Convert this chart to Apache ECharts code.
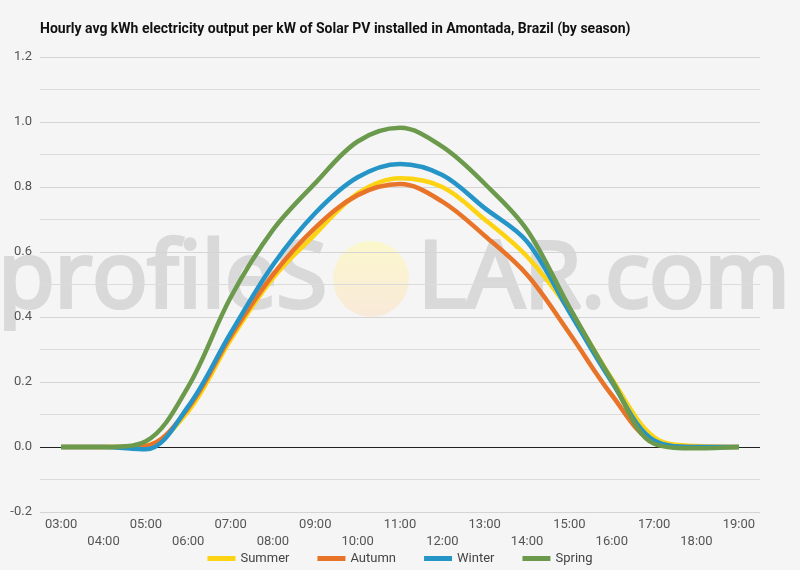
<!DOCTYPE html>
<html>
<head>
<meta charset="utf-8">
<script src="https://cdn.jsdelivr.net/npm/echarts@6/dist/echarts.min.js"></script>
<style>
  html, body { margin: 0; padding: 0; background: #f5f5f5; }
  #chart { width: 800px; height: 570px; }
</style>
</head>
<body>
<div id="chart"></div>
<script>
const hours = ['03:00', '04:00', '05:00', '06:00', '07:00', '08:00', '09:00', '10:00', '11:00',
  '12:00', '13:00', '14:00', '15:00', '16:00', '17:00', '18:00', '19:00']

const summer = [0, 0, 0.004, 0.11, 0.33, 0.52, 0.655, 0.78, 0.827, 0.80, 0.70, 0.586, 0.42, 0.21, 0.03, 0.003, 0]
const autumn = [0, 0, 0.004, 0.12, 0.34, 0.53, 0.675, 0.775, 0.809, 0.755, 0.65, 0.53, 0.35, 0.16, 0.015, 0, 0]
const winter = [0, 0, -0.007, 0.125, 0.35, 0.56, 0.72, 0.83, 0.871, 0.837, 0.735, 0.632, 0.415, 0.20, 0.02, 0, 0]
const spring = [0, 0, 0.018, 0.186, 0.46, 0.668, 0.812, 0.94, 0.982, 0.924, 0.81, 0.668, 0.43, 0.206, 0.01, -0.004, 0]

const seriesNames = ['Summer', 'Autumn', 'Winter', 'Spring']
const seriesColors = ['#fcd414', '#e8742a', '#2595c8', '#6c9a4c']
const seriesData = [summer, autumn, winter, spring]

const chart = echarts.init(document.getElementById('chart'))

const textFont = 'Roboto'
const markFont = '92px "Open Sans"'
const markColor = '#d9d9d9'

chart.setOption({
  backgroundColor: '#f5f5f5',
  animation: false,
  title: {
    text: 'Hourly avg kWh electricity output per kW of Solar PV installed in Amontada, Brazil (by season)',
    left: 35,
    top: 17,
    textStyle: { fontFamily: textFont, fontSize: 14, fontWeight: 'bold', color: '#111' }
  },
  legend: {
    bottom: 5,
    left: 'center',
    padding: 0,
    itemWidth: 28,
    itemHeight: 5,
    itemGap: 28,
    icon: 'rect',
    textStyle: { fontFamily: textFont, fontSize: 13, color: '#444' },
    data: seriesNames
  },
  grid: { left: 40, right: 40, top: 57, bottom: 58 },
  graphic: [
    {
      type: 'text',
      z: -1,
      silent: true,
      style: {
        text: 'profileS',
        x: 327, y: 235,
        align: 'right',
        verticalAlign: 'top',
        font: markFont,
        fill: markColor,
        stroke: markColor,
        lineWidth: 4
      }
    },
    {
      type: 'circle',
      z: -1,
      silent: true,
      shape: { cx: 371, cy: 279, r: 38 },
      style: {
        fill: {
          type: 'linear', x: 0, y: 0, x2: 0, y2: 1,
          colorStops: [
            { offset: 0, color: 'rgba(252,248,200,0.9)' },
            { offset: 1, color: 'rgba(249,232,214,0.9)' }
          ]
        }
      }
    },
    {
      type: 'text',
      z: -1,
      silent: true,
      style: {
        text: 'LAR.com',
        x: 418, y: 235,
        align: 'left',
        verticalAlign: 'top',
        font: markFont,
        fill: markColor,
        stroke: markColor,
        lineWidth: 4
      }
    }
  ],
  xAxis: {
    type: 'category',
    data: hours,
    boundaryGap: true,
    axisLine: { show: false },
    axisTick: { show: false },
    axisLabel: {
      interval: 0,
      margin: 4,
      lineHeight: 17,
      fontFamily: textFont,
      fontSize: 13,
      color: '#555',
      formatter: (v, i) => (i % 2 ? '\n' + v : v)
    },
    splitLine: { show: false }
  },
  yAxis: {
    type: 'value',
    min: -0.2,
    max: 1.2,
    interval: 0.2,
    axisLine: { show: false },
    axisTick: { show: false },
    axisLabel: {
      margin: 8,
      fontFamily: textFont,
      fontSize: 13,
      color: '#555',
      formatter: v => v.toFixed(1)
    },
    splitLine: { lineStyle: { color: '#d4d4d4', width: 1 } },
    minorTick: { show: false, splitNumber: 2 },
    minorSplitLine: { show: true, lineStyle: { color: '#dcdcdc', width: 1 } }
  },
  series: seriesNames.map((name, k) => ({
    name,
    type: 'line',
    data: seriesData[k],
    smooth: 0.35,
    symbol: 'none',
    lineStyle: { width: 4.5, color: seriesColors[k] },
    itemStyle: { color: seriesColors[k] },
    z: 2 + k,
    markLine: k === 0 ? {
      silent: true,
      symbol: 'none',
      label: { show: false },
      lineStyle: { color: '#222', width: 1.2, type: 'solid' },
      data: [{ yAxis: 0 }],
      z: 1
    } : undefined
  }))
})
</script>
</body>
</html>
